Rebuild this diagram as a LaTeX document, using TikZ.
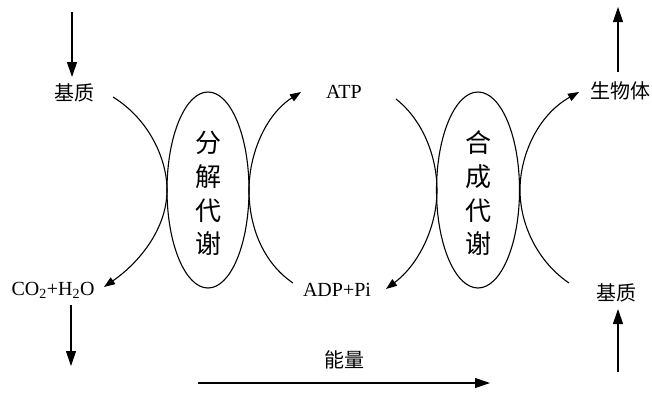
\documentclass[tikz,border=0pt]{standalone}
\usepackage{fontspec}
\setmainfont{Liberation Serif}
\newfontfamily\cjk{Noto Sans CJK SC}
\usetikzlibrary{arrows.meta}
\begin{document}
\begin{tikzpicture}[x=1pt,y=-1pt,
  lbl/.style={font=\fontsize{20}{22}\selectfont, inner sep=0pt},
  cn/.style={font=\cjk\fontsize{20}{22}\selectfont, inner sep=0pt},
  big/.style={font=\cjk\fontsize{26}{28}\selectfont, inner sep=0pt},
  flow/.style={line width=1.1pt, -{Triangle[length=15pt,width=10pt]}},
  curve/.style={line width=1.1pt, -{Triangle[length=11pt,width=8pt]}}]
\useasboundingbox (0,0) rectangle (652,394);
% ellipses
\draw[line width=1.1pt] (208,190) ellipse [x radius=41, y radius=98];
\draw[line width=1.1pt] (478,190) ellipse [x radius=41.5, y radius=98];
% ellipse texts
\node[big] (f1) at (208,143) {分};
\node[big] (f2) at (208,177) {解};
\node[big] (f3) at (208,211) {代};
\node[big] (f4) at (208,244) {谢};
\node[big] (h1) at (478,143) {合};
\node[big] (h2) at (478,177) {成};
\node[big] (h3) at (478,211) {代};
\node[big] (h4) at (478,244) {谢};
% labels
\node[cn] (jz1) at (74,93) {基质};
\node[lbl] (atp) at (344,92) {ATP};
\node[cn] (sw) at (620,91) {生物体};
\node[lbl] (co2) at (53,290) {CO\textsubscript{2}+H\textsubscript{2}O};
\node[lbl] (adp) at (337,290) {ADP+Pi};
\node[cn] (jz2) at (616,293) {基质};
\node[cn] (nl) at (344,360) {能量};
% coordinates
\coordinate (t1) at (72,12);
\coordinate (t1e) at (72,77);
\coordinate (b1s) at (71,305);
\coordinate (b1) at (71,366);
\coordinate (t2) at (618,72);
\coordinate (t2e) at (618,7);
\coordinate (b2) at (618,372);
\coordinate (b2e) at (618,309);
\coordinate (e1) at (198,383);
\coordinate (e2) at (490,383);
% straight arrows
\draw[flow] (t1) -- (t1e);
\draw[flow] (b1s) -- (b1);
\draw[flow] (t2) -- (t2e);
\draw[flow] (b2) -- (b2e);
\draw[flow] (e1) -- (e2);
% curves
\draw[curve] (113,97) .. controls (150,120) and (167,160) .. (167,190)
  .. controls (167,228) and (140,262) .. (104,287);
\draw[curve] (293,283) .. controls (262,262) and (249,225) .. (249,190)
  .. controls (249,155) and (265,115) .. (301,92);
\draw[curve] (396,99) .. controls (425,122) and (437,160) .. (437,190)
  .. controls (437,228) and (418,265) .. (386,289);
\draw[curve] (569,283) .. controls (538,262) and (520,225) .. (520,190)
  .. controls (520,155) and (538,115) .. (579,92);
\end{tikzpicture}
\end{document}
